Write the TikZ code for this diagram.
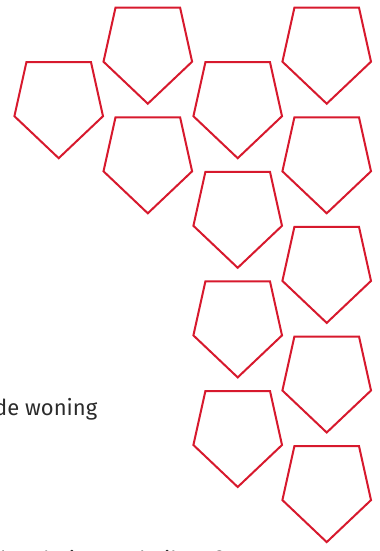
\documentclass[tikz,border=0pt]{standalone}
\usepackage{fontspec}
\setmainfont{Fira Sans}
\definecolor{shieldred}{HTML}{D7192D}
\definecolor{textgray}{HTML}{2B2B2B}
\tikzset{
  x=1bp, y=-1bp,
  shieldline/.style={draw=shieldred, line width=2bp, line join=miter},
  pics/shield/.style={code={
    \draw[shieldline] (-32.3,0) -- (32.3,0) -- (44.3,54) -- (0,96) -- (-44.3,54) -- cycle;
  }},
  bodytext/.style={text=textgray, inner sep=0pt, anchor=base west, font=\fontsize{22bp}{26bp}\selectfont}
}
\begin{document}
\begin{tikzpicture}
\useasboundingbox (0,0) rectangle (379,551);
% column A
\pic (a1) at (58.7,62.2) {shield};
% column B
\pic (b1) at (147.8,7.7) {shield};
\pic (b2) at (147.8,117.3) {shield};
% column C
\pic (c1) at (237.7,62.2) {shield};
\pic (c2) at (237.7,171.8) {shield};
\pic (c3) at (237.7,281.4) {shield};
\pic (c4) at (237.7,391.0) {shield};
% column D
\pic (d1) at (326.7,7.7) {shield};
\pic (d2) at (326.7,117.3) {shield};
\pic (d3) at (326.7,226.9) {shield};
\pic (d4) at (326.7,336.5) {shield};
\pic (d5) at (326.7,446.1) {shield};
% text
\node[bodytext] (t1) at (-6,415) {de woning};
\node[bodytext] (t2) at (0,567.5) {l en huis, een beil en f};
\end{tikzpicture}
\end{document}
